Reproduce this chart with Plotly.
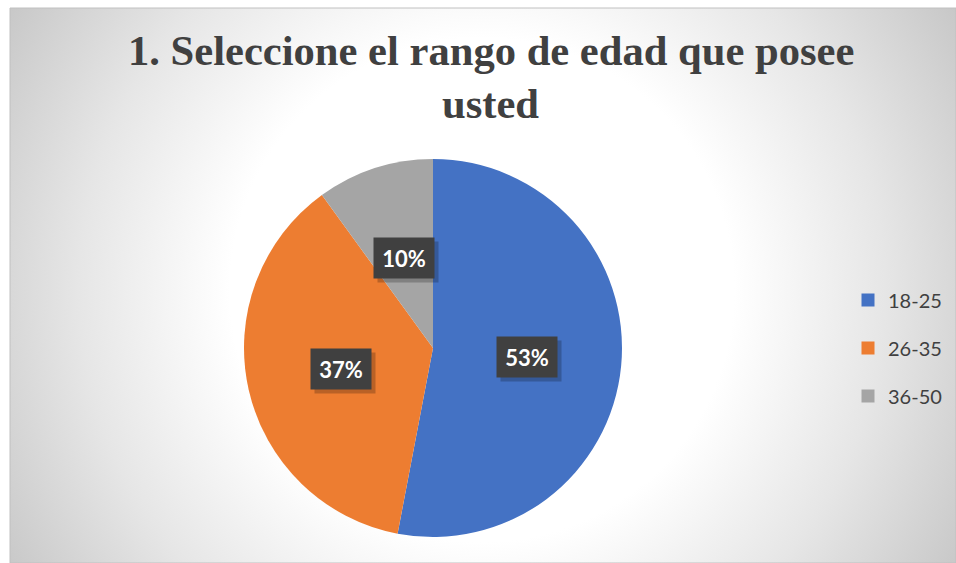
import base64
import math
import plotly.graph_objects as go

# ---- data ----
categories = ["18-25", "26-35", "36-50"]
values = [53, 37, 10]
colors = ["#4472C4", "#ED7D31", "#A5A5A5"]
title_lines = ["1. Seleccione el rango de edad que posee", "usted"]

FW, FH = 956, 563            # figure size
CX, CY, R = 433, 348, 189    # pie centre / radius in px


def X(px):
    return px / FW


def Y(py):
    return 1 - py / FH


BX, BY = 10, 8   # chart-area top-left corner
# radial gradient background (chart area)
svg = f'''<svg xmlns="http://www.w3.org/2000/svg" width="{FW - BX}" height="{FH - BY}">
<defs><radialGradient id="g" gradientUnits="userSpaceOnUse" cx="472" cy="282" r="560">
<stop offset="0" stop-color="#ffffff"/>
<stop offset="0.45" stop-color="#ffffff"/>
<stop offset="0.72" stop-color="#e6e6e6"/>
<stop offset="1" stop-color="#c6c6c6"/>
</radialGradient></defs>
<rect x="0" y="0" width="{FW - BX}" height="{FH - BY}" fill="url(#g)"/></svg>'''
src = "data:image/svg+xml;base64," + base64.b64encode(svg.encode()).decode()

fig = go.Figure()
fig.add_trace(go.Pie(
    labels=categories, values=values, sort=False, direction="clockwise", rotation=0,
    marker=dict(colors=colors, line=dict(width=0)), textinfo="none", hoverinfo="label+percent",
    showlegend=False,
    domain=dict(x=[X(CX - R), X(CX + R)], y=[Y(CY + R), Y(CY - R)]),
))

# legend entries
for i, (c, col) in enumerate(zip(categories, colors)):
    fig.add_trace(go.Scatter(x=[None], y=[None], mode="markers", name=c, legendgroup=f"g{i}",
                             marker=dict(symbol="square", size=13, color=col)))

# data labels in dark boxes (with a soft drop shadow box behind)
total = sum(values)
cum = 0
ann = []
for v in values:
    th = (cum + v / 2) / total * 2 * math.pi
    cum += v
    px = CX + 0.5 * R * math.sin(th)
    py = CY - 0.5 * R * math.cos(th)
    txt = f"<b>{round(v / total * 100)}%</b>"
    base = dict(x=X(px), y=Y(py), xref="paper", yref="paper", showarrow=False,
                width=46, height=26, borderpad=7)
    ann.append(dict(text=" ", bgcolor="rgba(0,0,0,0.22)", xshift=4, yshift=-4,
                    font=dict(family="Lato", size=22), **base))
    ann.append(dict(text=txt, bgcolor="#404040",
                    font=dict(family="Lato", size=22, color="white"), **base))

# title lines
for i, t in enumerate(title_lines):
    ann.append(dict(text=f"<b>{t}</b>", x=X(491), y=Y([51, 103][i]), xref="paper", yref="paper",
                    showarrow=False, xanchor="center", yanchor="middle",
                    font=dict(family="Liberation Serif", size=42.6, color="#404040")))

fig.update_layout(
    width=FW, height=FH, margin=dict(l=0, r=0, t=0, b=0),
    paper_bgcolor="white", plot_bgcolor="rgba(0,0,0,0)",
    xaxis=dict(visible=False), yaxis=dict(visible=False),
    images=[dict(source=src, xref="paper", yref="paper", x=X(BX), y=Y(BY),
                 sizex=1 - X(BX), sizey=Y(BY), sizing="stretch", layer="below",
                 xanchor="left", yanchor="top")],
    shapes=[dict(type="rect", xref="paper", yref="paper", x0=X(BX), y0=0, x1=1.0, y1=Y(BY),
                 line=dict(color="#c0c0c0", width=1), layer="below")],
    annotations=ann,
    legend=dict(x=X(848), y=Y(348), xanchor="left", yanchor="middle", tracegroupgap=19,
                font=dict(family="Lato", size=20, color="#404040"), bgcolor="rgba(0,0,0,0)"),
    hovermode=False,
)

fig.write_html("out.html", config={"displayModeBar": False},
               post_script="document.body.style.margin='0';document.body.style.overflow='hidden';")
